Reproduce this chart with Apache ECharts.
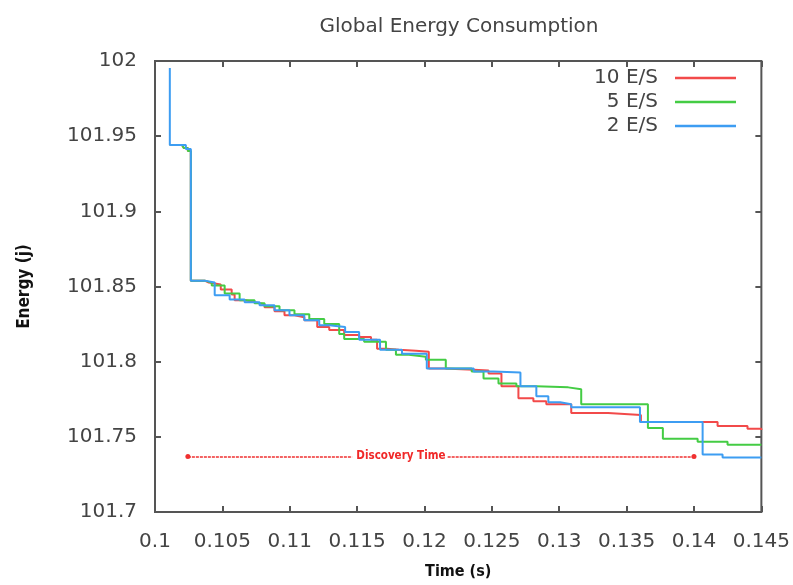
<!DOCTYPE html>
<html>
<head>
<meta charset="utf-8">
<script src="https://cdn.jsdelivr.net/npm/echarts@6/dist/echarts.min.js"></script>
<style>
html,body{margin:0;padding:0;background:#fff;}
#main{width:793px;height:585px;}
</style>
</head>
<body>
<div id="main"></div>
<script>
// series names
let seriesNames = ['10 E/S', '5 E/S', '2 E/S'];

// 10 E/S
let redTime = [0.1011, 0.1020, 0.10214, 0.10244, 0.10266, 0.10369, 0.10399, 0.10488, 0.10569, 0.10591,
    0.10672, 0.10739, 0.10813, 0.10887, 0.10961, 0.11035, 0.11108, 0.11204, 0.11293, 0.11404,
    0.11515, 0.11603, 0.11648, 0.11722, 0.1181, 0.11936, 0.12032, 0.12143, 0.12365, 0.12475,
    0.12571, 0.12697, 0.12808, 0.12904, 0.13089, 0.13362, 0.13606, 0.13953, 0.14175, 0.14397, 0.145];
let redEnergy = [101.9441, 101.9441, 101.9421, 101.9401, 101.8539, 101.8526, 101.8513, 101.848, 101.8447, 101.8408,
    101.8395, 101.8382, 101.8362, 101.8336, 101.8309, 101.8296, 101.8276, 101.823, 101.8211, 101.8178,
    101.8164, 101.8145, 101.8086, 101.8079, 101.8072, 101.8066, 101.7954, 101.7947, 101.7941, 101.7921,
    101.7836, 101.7757, 101.7737, 101.7717, 101.7658, 101.7645, 101.7599, 101.7599, 101.7572, 101.7553, 101.7546];

// 5 E/S
let greenTime = [0.1011, 0.1020, 0.10214, 0.10244, 0.10266, 0.10369, 0.10421, 0.10517, 0.10628, 0.10739,
    0.10813, 0.10924, 0.11035, 0.11145, 0.11256, 0.11367, 0.11404, 0.11552, 0.11714, 0.11788,
    0.11884, 0.1201, 0.12158, 0.1235, 0.12438, 0.12549, 0.12682, 0.1283, 0.13067, 0.13163,
    0.13658, 0.13769, 0.14027, 0.14249, 0.145];
let greenEnergy = [101.9441, 101.9441, 101.9421, 101.9401, 101.8539, 101.8526, 101.8507, 101.8454, 101.8408, 101.8388,
    101.8368, 101.8342, 101.8316, 101.8283, 101.825, 101.8184, 101.8151, 101.8132, 101.8079, 101.8046,
    101.8033, 101.8013, 101.7954, 101.7934, 101.7888, 101.7855, 101.7836, 101.7829, 101.7816, 101.7717,
    101.7559, 101.7487, 101.7467, 101.7447, 101.7447];

// 2 E/S
let blueTime = [0.1011, 0.1011, 0.1020, 0.10229, 0.10266, 0.10369, 0.10443, 0.10554, 0.10665, 0.10776,
    0.10887, 0.10998, 0.11108, 0.11219, 0.11293, 0.11411, 0.11515, 0.1167, 0.11833, 0.12017,
    0.12365, 0.12512, 0.12712, 0.1283, 0.12919, 0.13007, 0.13089, 0.13599, 0.14064, 0.14212, 0.145];
let blueEnergy = [101.9954, 101.9441, 101.9441, 101.9414, 101.8539, 101.8526, 101.8441, 101.8414, 101.8395, 101.8375,
    101.8342, 101.8309, 101.8276, 101.8243, 101.823, 101.8197, 101.8145, 101.8079, 101.8053, 101.7954,
    101.7934, 101.7928, 101.7836, 101.777, 101.773, 101.7717, 101.7697, 101.7599, 101.7382, 101.7362, 101.7362];

// discovery time annotation
let discoveryLevel = 101.737;
let discoveryStart = 0.10244;
let discoveryEnd = 0.14;
let discoveryGap = [0.11463, 0.12172];
let discoveryLabelAt = 0.11825;

let colors = ['#f24a4a', '#44cc44', '#3d9df2'];

function zip(xs, ys) {
    let out = [];
    for (let i = 0; i < xs.length; i++) {
        out.push([xs[i], ys[i]]);
    }
    return out;
}

let chart = echarts.init(document.getElementById('main'));
let baseFont = 'DejaVu Sans';
let boldFont = '"DejaVu Sans Condensed", "DejaVu Sans", sans-serif';

function lineSeries(name, data, color) {
    return {
        name: name,
        type: 'line',
        step: 'end',
        data: data,
        symbol: 'none',
        lineStyle: {color: color, width: 2},
        itemStyle: {color: color},
        animation: false
    };
}

let series = [
    lineSeries(seriesNames[0], zip(redTime, redEnergy), colors[0]),
    lineSeries(seriesNames[1], zip(greenTime, greenEnergy), colors[1]),
    lineSeries(seriesNames[2], zip(blueTime, blueEnergy), colors[2])
];

// annotation series (not in legend)
series.push({
    name: 'discovery',
    type: 'line',
    data: [],
    animation: false,
    markLine: {
        silent: true,
        symbol: ['none', 'none'],
        label: {show: false},
        lineStyle: {color: '#f03030', width: 1.5, type: [3, 1]},
        data: [
            [{coord: [discoveryStart, discoveryLevel], symbol: 'circle', symbolSize: 5},
             {coord: [discoveryGap[0], discoveryLevel], symbol: 'none'}],
            [{coord: [discoveryGap[1], discoveryLevel], symbol: 'none'},
             {coord: [discoveryEnd, discoveryLevel], symbol: 'circle', symbolSize: 5}]
        ]
    },
    markPoint: {
        silent: true,
        symbol: 'circle',
        symbolSize: 0,
        label: {
            show: true,
            position: 'inside',
            formatter: 'Discovery Time',
            color: '#f02828',
            fontFamily: boldFont,
            fontWeight: 'bold',
            fontSize: 11.5
        },
        data: [{coord: [discoveryLabelAt, discoveryLevel]}]
    }
});

let axisColor = '#555';

let option = {
    backgroundColor: '#fff',
    animation: false,
    title: {
        text: 'Global Energy Consumption',
        left: 454,
        top: 12,
        textAlign: 'center',
        textStyle: {fontFamily: baseFont, fontSize: 20, fontWeight: 'normal', color: '#444'}
    },
    legend: {
        data: seriesNames,
        orient: 'vertical',
        right: 52,
        top: 63,
        align: 'right',
        icon: 'rect',
        itemWidth: 61,
        itemHeight: 2.5,
        itemGap: 4,
        textStyle: {fontFamily: baseFont, fontSize: 20, color: '#444', lineHeight: 20, padding: [0, 12, 0, 0]}
    },
    grid: {
        left: 155, right: 29, top: 61, bottom: 68,
        show: true,
        borderColor: axisColor,
        borderWidth: 2,
        containLabel: false
    },
    xAxis: [{
        type: 'value',
        min: 0.1,
        max: 0.145,
        interval: 0.005,
        name: 'Time (s)',
        nameLocation: 'middle',
        nameGap: 52,
        nameTextStyle: {fontFamily: boldFont, fontWeight: 'bold', fontSize: 16, color: '#111'},
        axisLine: {show: false},
        axisTick: {show: true, inside: true, length: 6, lineStyle: {color: axisColor, width: 2}},
        axisLabel: {
            fontFamily: baseFont, fontSize: 20, color: '#444', margin: 20,
            formatter: function (v) { return String(+v.toFixed(3)); }
        },
        splitLine: {show: false}
    }, {
        type: 'value',
        position: 'top',
        min: 0.1,
        max: 0.145,
        interval: 0.005,
        axisLine: {show: false},
        axisTick: {show: true, inside: true, length: 6, lineStyle: {color: axisColor, width: 2}},
        axisLabel: {show: false},
        splitLine: {show: false}
    }],
    yAxis: [{
        type: 'value',
        min: 101.7,
        max: 102,
        interval: 0.05,
        name: 'Energy (j)',
        nameLocation: 'middle',
        nameRotate: 90,
        nameGap: 122,
        nameTextStyle: {fontFamily: boldFont, fontWeight: 'bold', fontSize: 17, color: '#111'},
        axisLine: {show: false},
        axisTick: {show: true, inside: true, length: 6, lineStyle: {color: axisColor, width: 2}},
        axisLabel: {
            fontFamily: baseFont, fontSize: 20, color: '#444', margin: 18,
            formatter: function (v) { return String(+v.toFixed(2)); }
        },
        splitLine: {show: false}
    }, {
        type: 'value',
        position: 'right',
        min: 101.7,
        max: 102,
        interval: 0.05,
        axisLine: {show: false},
        axisTick: {show: true, inside: true, length: 6, lineStyle: {color: axisColor, width: 2}},
        axisLabel: {show: false},
        splitLine: {show: false}
    }],
    series: series
};

chart.setOption(option);
</script>
</body>
</html>
